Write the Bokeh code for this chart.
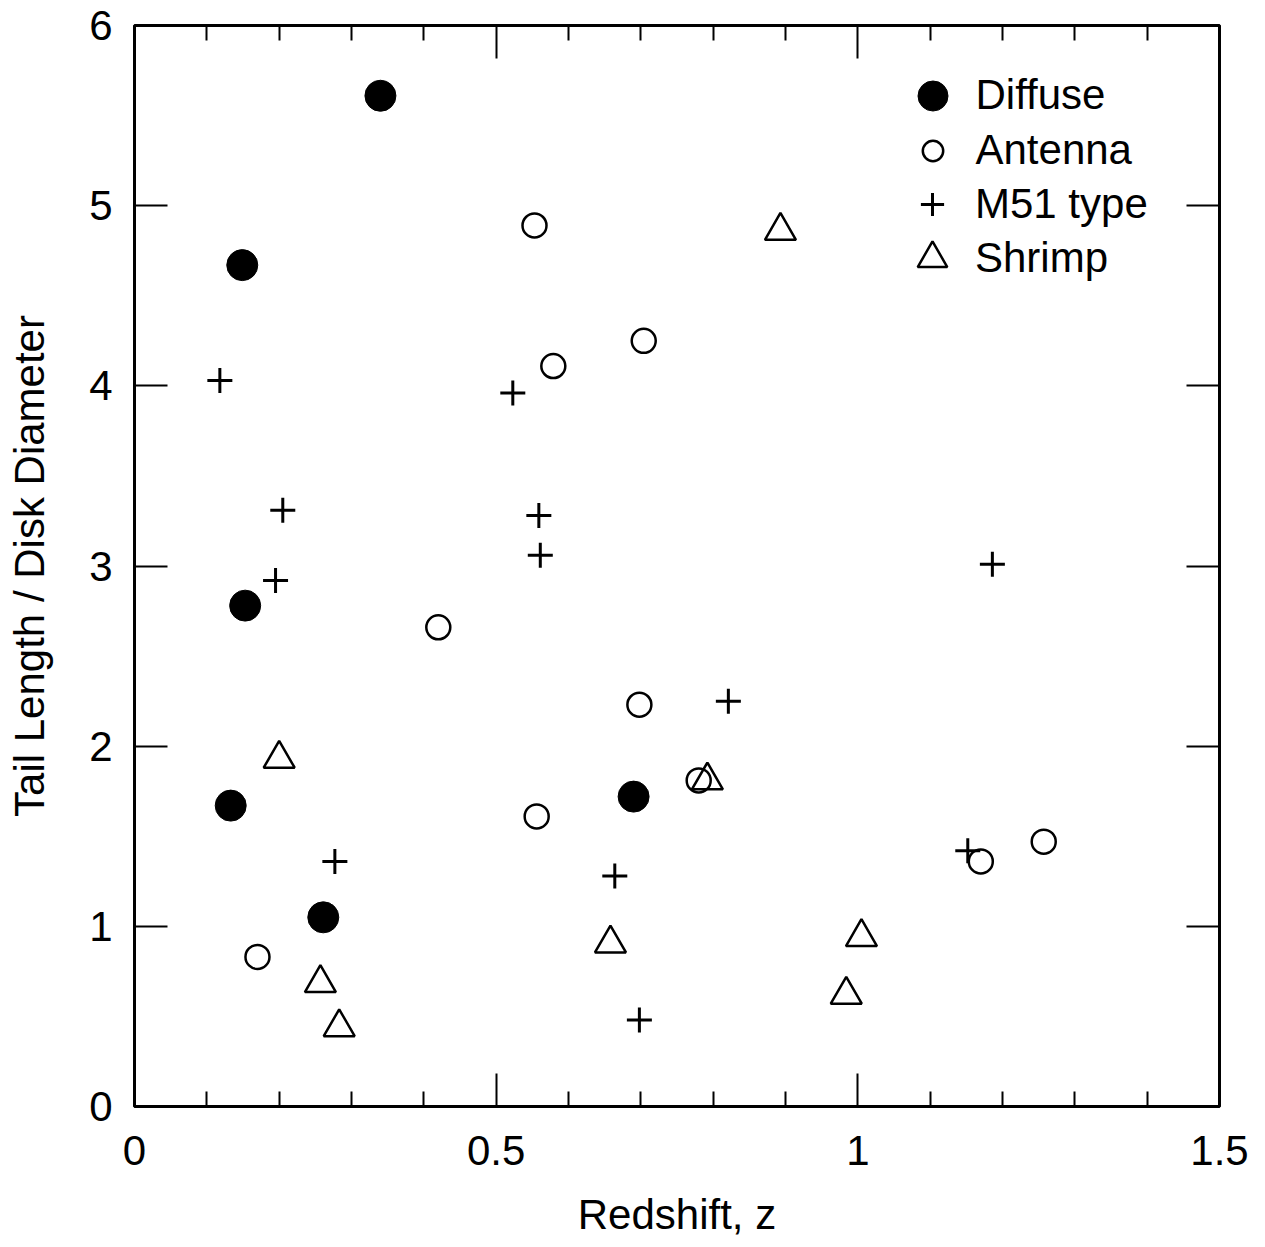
from bokeh.plotting import figure
from bokeh.models import Range1d, FixedTicker, LinearAxis, Legend, LegendItem, CustomJSTickFormatter
from bokeh.embed import file_html
from bokeh.resources import INLINE

# ---- data ----
diffuse_z = [0.340, 0.149, 0.153, 0.133, 0.261, 0.690]
diffuse_r = [5.61, 4.67, 2.78, 1.67, 1.05, 1.72]

antenna_z = [0.553, 0.579, 0.704, 0.420, 0.698, 0.780, 0.556, 0.170, 1.170, 1.257]
antenna_r = [4.89, 4.11, 4.25, 2.66, 2.23, 1.81, 1.61, 0.83, 1.36, 1.47]

m51_z = [0.118, 0.523, 0.205, 0.559, 0.561, 0.195, 1.186, 0.821, 0.277, 0.664, 0.698, 1.152]
m51_r = [4.03, 3.96, 3.31, 3.28, 3.06, 2.92, 3.01, 2.25, 1.36, 1.28, 0.48, 1.42]

shrimp_z = [0.893, 0.200, 0.257, 0.283, 0.658, 1.005, 0.984, 0.792]
shrimp_r = [4.86, 1.93, 0.685, 0.44, 0.905, 0.94, 0.62, 1.81]

x_major = [0, 0.5, 1, 1.5]
x_minor = [0.1, 0.2, 0.3, 0.4, 0.6, 0.7, 0.8, 0.9, 1.1, 1.2, 1.3, 1.4]
y_major = [0, 1, 2, 3, 4, 5, 6]

series_labels = ["Diffuse", "Antenna", "M51 type", "Shrimp"]

FONT = "Liberation Sans"
FS = "42px"

p = figure(width=1260, height=1240, output_backend="svg", toolbar_location=None,
           x_range=Range1d(0, 1.5), y_range=Range1d(0, 6),
           min_border_left=134, min_border_right=41, min_border_top=25, min_border_bottom=134,
           x_axis_label="Redshift, z", y_axis_label="Tail Length / Disk Diameter")
p.grid.visible = False
p.outline_line_color = "black"
p.outline_line_width = 3
p.background_fill_color = "white"
p.border_fill_color = "white"

def style_axis(ax, major, minor, labels=True):
    ax.ticker = FixedTicker(ticks=major, minor_ticks=minor)
    ax.axis_line_color = None
    ax.major_tick_in = 33
    ax.major_tick_out = 0
    ax.minor_tick_in = 15
    ax.minor_tick_out = 0
    ax.major_tick_line_width = 2
    ax.minor_tick_line_width = 2
    ax.major_tick_line_color = "black"
    ax.minor_tick_line_color = "black" if minor else None
    ax.major_label_text_font = FONT
    ax.major_label_text_font_size = FS
    ax.major_label_text_color = "black"
    ax.axis_label_text_font = FONT
    ax.axis_label_text_font_size = FS
    ax.axis_label_text_font_style = "normal"
    ax.axis_label_text_color = "black"
    if not labels:
        ax.formatter = CustomJSTickFormatter(code="return ''")
        ax.major_label_text_font_size = "1px"
        ax.major_label_standoff = 0

xa = p.xaxis[0]
ya = p.yaxis[0]
style_axis(xa, x_major, x_minor)
style_axis(ya, y_major, [])
xa.major_label_standoff = 29
xa.axis_label_standoff = 23
ya.major_label_standoff = 22
ya.axis_label_standoff = 33

top = LinearAxis()
style_axis(top, x_major, x_minor, labels=False)
p.add_layout(top, "above")
right = LinearAxis()
style_axis(right, y_major, [], labels=False)
p.add_layout(right, "right")

r1 = p.scatter(diffuse_z, diffuse_r, marker="circle", size=31, fill_color="black", line_color="black")
r2 = p.scatter(antenna_z, antenna_r, marker="circle", size=24, fill_color=None, line_color="black", line_width=2.5)
r3 = p.scatter(m51_z, m51_r, marker="cross", size=25, line_color="black", line_width=3)
r4 = p.scatter(shrimp_z, shrimp_r, marker="triangle", size=31, fill_color=None, line_color="black", line_width=2.5)

# one single-row legend per series so each legend glyph gets its own size
legend_specs = [
    (r1, 75, (760.5, 973.5), 6),
    (r2, 51, (772.5, 930.5), 18),
    (r3, 58, (769.0, 873.0), 14),
    (r4, 74, (761.0, 811.0), 6),
]
for lab, (rend, g, loc, so) in zip(series_labels, legend_specs):
    lg = Legend(items=[LegendItem(label=lab, renderers=[rend])],
                location=loc, glyph_width=g, glyph_height=g, spacing=0,
                padding=0, margin=0, label_standoff=so,
                label_text_font=FONT, label_text_font_size=FS, label_text_color="black",
                border_line_color=None, background_fill_alpha=0)
    p.add_layout(lg, "center")

open("out.html", "w").write(file_html(p, INLINE))
